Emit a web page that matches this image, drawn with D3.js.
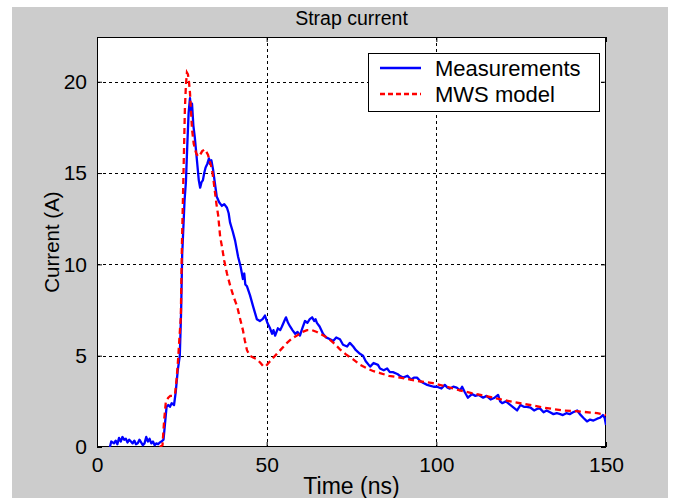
<!DOCTYPE html>
<html><head><meta charset="utf-8">
<script src="https://cdn.jsdelivr.net/npm/d3@7"></script>
<style>body{margin:0;background:#fff;}svg{display:block;font-family:"Liberation Sans",Arial,sans-serif;}</style>
</head><body><svg id="c" width="676" height="498"></svg>
<script>
const title = "Strap current";
const xLabel = "Time (ns)";
const yLabel = "Current (A)";
const xTicks = [0, 50, 100, 150];
const yTicks = [0, 5, 10, 15, 20];
const seriesNames = ["Measurements", "MWS model"];

const measT = [3.8,4.2,5,5.5,6,6.5,7,7.5,8,8.5,9,9.5,10,10.5,11,11.5,12,12.5,13,13.5,14,14.5,15,15.5,16,16.5,17,17.5,18,18.5,19,19.6,20,20.5,21,21.5,22,22.7,23.2,23.8,24.4,24.8,25.1,25.4,25.8,26.2,26.6,27,27.4,27.7,28,28.4,28.8,29.2,29.6,30,30.4,30.8,31.2,31.6,32,32.5,33,33.3,33.7,34.2,34.7,35.3,36,36.8,37.5,38.3,38.8,39.2,40,40.7,41.6,42.3,43,43.4,43.7,44.2,45.1,46,47.1,48,48.8,49.5,50.2,51,51.6,52,52.5,53.3,54,54.5,55.2,55.7,56.3,56.9,57.6,58.4,59.1,59.8,60.5,61.3,62,62.7,63.4,64,64.4,64.8,65.6,66.6,67.5,68.7,69.6,70.5,71.6,72.5,73.7,74.5,75.5,76.3,77.5,78.4,79.2,80.5,81.5,82.8,83.4,84.5,85.5,86.3,87.2,88.5,89.2,90.2,91.5,92.5,93.5,94.3,95.3,96.2,97.3,98.3,99.2,100.2,101.5,102.5,103.3,104,105,106,107,107.6,108.4,109.3,110.5,111.5,112.5,113.8,114.8,116,117.2,118.2,118.8,119.4,120.5,121.5,122.5,123.8,124.8,125.8,126.7,127.8,128.8,129.8,130.6,131.6,132.5,133.5,134.5,135.5,136.5,137.3,138.3,139.3,140.3,141.5,142.3,143.3,144.4,145.3,146.3,147.4,148.2,149.1,149.6,150];
const measI = [0.0,0.3,0.2,0.35,0.15,0.5,0.3,0.55,0.4,0.45,0.25,0.4,0.3,0.2,0.35,0.15,0.2,0.4,0.25,0.1,0.2,0.55,0.3,0.45,0.2,0.3,0.1,0.2,0.15,0.25,0.3,0.4,1.2,2.2,2.3,2.2,2.4,2.3,3.0,4.2,5.0,7.5,10.5,11.8,13.5,14.5,16.5,18.3,19.1,18.4,18.8,17.6,17.0,16.2,15.4,14.6,14.2,14.5,14.6,15.0,15.3,15.5,15.8,15.5,15.7,15.2,14.5,13.7,13.4,13.2,13.3,13.1,12.8,12.3,11.8,11.3,10.4,9.9,9.2,9.5,8.9,8.8,8.3,7.7,7.0,6.9,7.0,7.2,6.8,6.5,6.2,6.4,6.1,6.5,6.4,6.6,6.9,7.1,6.8,6.6,6.4,6.2,6.3,6.1,6.5,6.9,6.8,7.0,7.1,6.9,7.0,6.8,6.6,6.2,6.0,5.9,5.8,6.0,5.9,5.6,5.5,5.7,5.5,5.3,5.1,5.0,4.7,4.4,4.6,4.5,4.3,4.2,4.3,4.1,4.1,4.0,3.9,3.8,3.9,3.7,3.8,3.8,3.6,3.5,3.4,3.35,3.3,3.3,3.2,3.4,3.25,3.2,3.3,3.25,3.1,3.3,3.0,2.7,2.9,2.8,2.85,2.7,2.8,2.6,2.7,2.85,2.5,2.4,2.5,2.35,2.2,2.0,2.3,2.2,2.2,2.15,2.0,2.1,2.1,1.9,2.0,1.9,1.8,1.85,1.8,1.75,1.85,1.8,1.9,2.0,1.8,1.6,1.4,1.5,1.45,1.55,1.6,1.75,1.6,1.2];

const modelT = [18.5,19.3,19.8,20.3,21,21.6,22.3,23,23.5,23.9,24.3,24.7,25,25.2,25.4,25.7,25.9,26.2,26.5,26.8,27.1,27.4,27.7,28,28.5,29.2,29.8,30.4,31,31.8,32.7,33.3,33.9,34.4,34.8,35.2,35.7,36.3,36.8,37.5,38.3,39.3,40.3,41.3,42.2,43,43.6,44.2,45,46,47.2,48.2,48.9,49.6,50.1,51,52,53,54.5,56,57.5,58.9,60.5,61.9,63.3,64.8,66.3,67.8,69.7,71.6,73.5,75.5,77.5,79.6,81.5,83.4,86,89.3,92,95,99,103,108,113,118,123,127.6,132,137.3,142,147.4,150];
const modelI = [0,0.1,1.5,2.5,2.7,2.8,2.8,2.9,3.8,4.8,6.0,7.1,10.8,12.5,14.2,16.8,18.5,19.8,20.5,20.4,20.0,19.4,18.4,17.4,16.6,16.1,15.9,16.0,16.2,16.3,16.0,15.6,15.2,14.5,13.9,13.3,12.7,11.5,11.0,10.2,9.5,8.8,8.2,7.7,7.0,6.4,5.8,5.3,5.0,4.9,4.8,4.6,4.45,4.4,4.5,4.7,4.9,5.1,5.4,5.7,5.95,6.1,6.3,6.4,6.4,6.3,6.15,6.0,5.7,5.35,5.05,4.8,4.5,4.3,4.15,4.05,3.9,3.8,3.7,3.6,3.5,3.3,3.05,2.85,2.65,2.45,2.3,2.15,2.0,1.95,1.85,1.75];

const svg = d3.select("#c");
const L = 97, R = 606, T = 37, B = 447;
svg.append("rect").attr("x",12).attr("y",7).attr("width",656).attr("height",491).attr("fill","#cccccc");

const x = d3.scaleLinear().domain([0,150]).range([L,R]);
const y = d3.scaleLinear().domain([0,22.45]).range([B,T]);

svg.append("rect").attr("x",L).attr("y",T).attr("width",R-L).attr("height",B-T).attr("fill","#fff");

// grid
const grid = svg.append("g").attr("stroke","#000").attr("stroke-width",1).attr("stroke-dasharray","3,3");
xTicks.filter(v=>v>0&&v<150).forEach(v=>grid.append("line").attr("x1",Math.round(x(v))+0.5).attr("x2",Math.round(x(v))+0.5).attr("y1",T).attr("y2",B));
yTicks.filter(v=>v>0).forEach(v=>grid.append("line").attr("y1",Math.round(y(v))+0.5).attr("y2",Math.round(y(v))+0.5).attr("x1",L).attr("x2",R));

// axes
const fs = "21px";
const xAx = svg.append("g").attr("transform",`translate(0,${B})`)
  .call(d3.axisBottom(x).tickValues(xTicks).tickSizeInner(-5).tickSizeOuter(0).tickPadding(10).tickFormat(d3.format("d")));
const xAxT = svg.append("g").attr("transform",`translate(0,${T})`)
  .call(d3.axisTop(x).tickValues(xTicks).tickSizeInner(-5).tickSizeOuter(0).tickFormat(""));
const yAx = svg.append("g").attr("transform",`translate(${L},0)`)
  .call(d3.axisLeft(y).tickValues(yTicks).tickSizeInner(-5).tickSizeOuter(0).tickPadding(10).tickFormat(d3.format("d")));
const yAxR = svg.append("g").attr("transform",`translate(${R},0)`)
  .call(d3.axisRight(y).tickValues(yTicks).tickSizeInner(-5).tickSizeOuter(0).tickFormat(""));
[xAx,xAxT,yAx,yAxR].forEach(g=>{
  g.select(".domain").remove();
  g.selectAll("line").attr("stroke","#000");
  g.selectAll("text").attr("fill","#000").style("font-size",fs).style("font-family","'Liberation Sans',Arial,sans-serif");
});
svg.append("rect").attr("x",L+0.5).attr("y",T+0.5).attr("width",R-L-1).attr("height",B-T-1).attr("fill","none").attr("stroke","#000").attr("stroke-width",1);

// lines
svg.append("clipPath").attr("id","clip").append("rect").attr("x",L).attr("y",T).attr("width",R-L).attr("height",B-T);
const line = d3.line().x(d=>x(d[0])).y(d=>y(d[1]));
const meas = measT.map((t,i)=>[t,measI[i]]);
const model = modelT.map((t,i)=>[t,modelI[i]]);
const pl = svg.append("g").attr("clip-path","url(#clip)");
pl.append("path").datum(meas).attr("d",line).attr("fill","none").attr("stroke","#0000ff").attr("stroke-width",2.3).attr("stroke-linejoin","round");
pl.append("path").datum(model).attr("d",line).attr("fill","none").attr("stroke","#ff0000").attr("stroke-width",2.3).attr("stroke-dasharray","6,4");

// title & labels
svg.append("text").attr("x",(L+R)/2).attr("y",25).attr("text-anchor","middle").style("font-size","19.5px").text(title);
svg.append("text").attr("x",(L+R)/2).attr("y",494).attr("text-anchor","middle").style("font-size","23px").text(xLabel);
svg.append("text").attr("transform",`translate(59,${(T+B)/2}) rotate(-90)`).attr("text-anchor","middle").style("font-size","20.5px").text(yLabel);

// legend
const lg = svg.append("g");
lg.append("rect").attr("x",368.5).attr("y",53.5).attr("width",231).attr("height",58).attr("fill","#fff").attr("stroke","#000");
lg.append("line").attr("x1",380).attr("x2",421).attr("y1",68).attr("y2",68).attr("stroke","#0000ff").attr("stroke-width",2.3);
lg.append("line").attr("x1",380).attr("x2",421).attr("y1",94).attr("y2",94).attr("stroke","#ff0000").attr("stroke-width",2.3).attr("stroke-dasharray","5,3");
lg.append("text").attr("x",435).attr("y",76).style("font-size","22px").text(seriesNames[0]);
lg.append("text").attr("x",435).attr("y",102).style("font-size","22px").text(seriesNames[1]);
</script></body></html>
